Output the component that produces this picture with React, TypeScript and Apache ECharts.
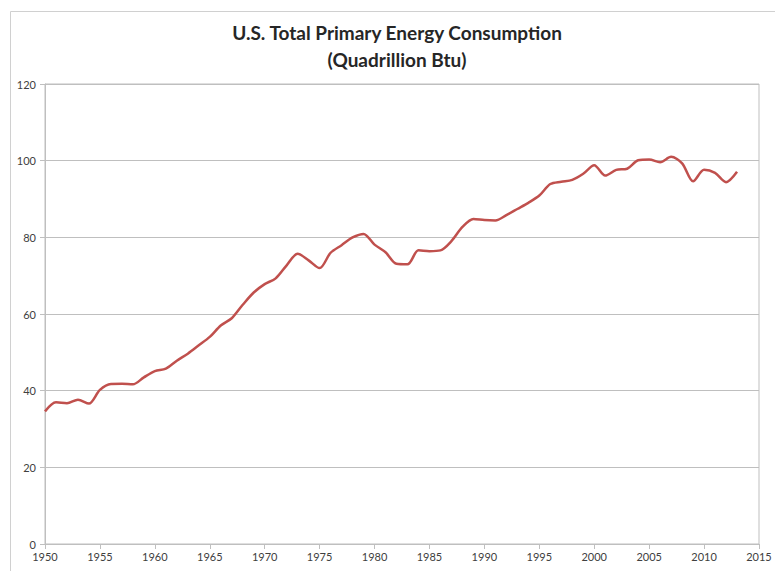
import React, { useEffect, useRef } from "react";
import * as echarts from "echarts";

const years: number[] = [
  1950, 1951, 1952, 1953, 1954, 1955, 1956, 1957, 1958, 1959,
  1960, 1961, 1962, 1963, 1964, 1965, 1966, 1967, 1968, 1969,
  1970, 1971, 1972, 1973, 1974, 1975, 1976, 1977, 1978, 1979,
  1980, 1981, 1982, 1983, 1984, 1985, 1986, 1987, 1988, 1989,
  1990, 1991, 1992, 1993, 1994, 1995, 1996, 1997, 1998, 1999,
  2000, 2001, 2002, 2003, 2004, 2005, 2006, 2007, 2008, 2009,
  2010, 2011, 2012, 2013,
];

const consumption: number[] = [
  34.6, 36.97, 36.75, 37.66, 36.64, 40.21, 41.75, 41.79, 41.65, 43.47,
  45.09, 45.74, 47.82, 49.64, 51.82, 54.02, 57.0, 58.9, 62.4, 65.6,
  67.8, 69.3, 72.7, 75.7, 74.0, 71.97, 75.98, 77.96, 79.96, 80.9,
  78.1, 76.1, 73.1, 72.97, 76.6, 76.4, 76.6, 79.0, 82.7, 84.8,
  84.5, 84.4, 85.8, 87.4, 89.0, 90.9, 93.9, 94.5, 95.0, 96.6,
  98.8, 96.1, 97.6, 97.9, 100.1, 100.3, 99.6, 101.0, 99.3, 94.6,
  97.6, 96.8, 94.4, 97.1,
];

const titleLines: string[] = ["U.S. Total Primary Energy Consumption", "(Quadrillion Btu)"];

export default function App() {
  const ref = useRef<HTMLDivElement>(null);
  useEffect(() => {
    if (!ref.current) return;
    const chart = echarts.init(ref.current, undefined, { renderer: "svg" });
    const font = "Lato, 'Open Sans', sans-serif";
    chart.setOption({
      animation: false,
      backgroundColor: "#ffffff",
      textStyle: { fontFamily: font },
      title: {
        text: titleLines.join("\n"),
        left: 392,
        top: 14,
        textAlign: "center",
        textStyle: {
          fontFamily: font,
          fontSize: 19,
          fontWeight: "bold",
          color: "#262626",
          lineHeight: 27,
        },
      },
      graphic: [
        {
          type: "rect",
          shape: { x: 10.5, y: 11.5, width: 800, height: 600 },
          style: { fill: "none", stroke: "#d0d0d0", lineWidth: 1 },
          silent: true,
        },
      ],
      grid: {
        left: 45,
        right: 16,
        top: 84,
        bottom: 27,
        show: true,
        borderColor: "#bfbfbf",
        borderWidth: 1,
        backgroundColor: "transparent",
      },
      xAxis: {
        type: "value",
        min: 1950,
        max: 2015,
        interval: 5,
        axisLine: { show: true, lineStyle: { color: "#bfbfbf", width: 1 } },
        axisTick: { show: true, length: 5, lineStyle: { color: "#bfbfbf" } },
        splitLine: { show: false },
        axisLabel: {
          color: "#404040",
          fontSize: 11,
          margin: 7,
          fontFamily: font,
          formatter: (v: number) => String(v),
        },
      },
      yAxis: {
        type: "value",
        min: 0,
        max: 120,
        interval: 20,
        axisLine: { show: true, lineStyle: { color: "#bfbfbf", width: 1 } },
        axisTick: { show: true, length: 5, lineStyle: { color: "#bfbfbf" } },
        splitLine: { show: true, lineStyle: { color: "#bfbfbf", width: 1 } },
        axisLabel: { color: "#404040", fontSize: 11, margin: 9, fontFamily: font },
      },
      series: [
        {
          type: "line",
          data: years.map((y, i) => [y, consumption[i]]),
          smooth: 0.3,
          showSymbol: false,
          lineStyle: { color: "#c0504d", width: 2.5 },
          itemStyle: { color: "#c0504d" },
        },
      ],
    });
    return () => chart.dispose();
  }, []);
  return (
    <div
      ref={ref}
      style={{ position: "fixed", left: 0, top: 0, width: 775, height: 571 }}
    />
  );
}
